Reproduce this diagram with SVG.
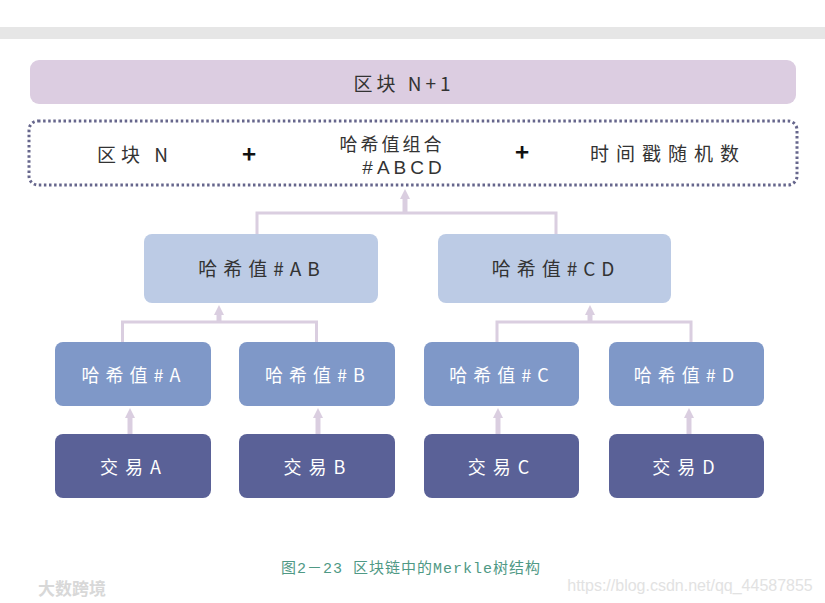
<svg xmlns="http://www.w3.org/2000/svg" width="825" height="603" viewBox="0 0 825 603">
<style>
  .t { font-family: "Noto Sans CJK SC", "Liberation Sans", sans-serif; text-anchor: middle; dominant-baseline: central; }
  .dark { fill: #333333; }
  .white { fill: #ffffff; }
  .l1 { fill: #dccde1; }
  .l2 { fill: #bccbe5; }
  .l3 { fill: #7f98c8; }
  .tx { fill: #5a6197; }
  .conn { fill: none; stroke: #dacee0; stroke-width: 3; }
  .arr { fill: none; stroke: #dacee0; stroke-width: 5; marker-end: url(#ah); }
</style>
<defs>
  <marker id="ah" markerUnits="userSpaceOnUse" markerWidth="12" markerHeight="10" refX="2" refY="5" orient="auto">
    <path d="M0,0 L10,5 L0,10 Z" fill="#dacee0"/>
  </marker>
</defs>
<rect x="0" y="0" width="825" height="603" fill="#ffffff"/>
<rect x="0" y="27" width="825" height="12" fill="#e6e6e6"/>

<g id="block-n1">
  <rect x="30" y="60" width="766" height="44" rx="9" class="l1"/>
  <text x="404" y="82" class="t dark" font-size="19" letter-spacing="4">区块 N+1</text>
</g>

<g id="header">
  <rect x="29" y="121" width="768" height="64" rx="9" fill="none" stroke="#66668c" stroke-width="3" stroke-dasharray="2.5 2.6"/>
  <text x="135" y="153" class="t dark" font-size="19" letter-spacing="5">区块 N</text>
  <text x="249" y="152" class="t" fill="#111" font-size="24" font-weight="bold">+</text>
  <text x="392" y="143" class="t dark" font-size="18" letter-spacing="3">哈希值组合</text>
  <text x="404" y="167" class="t dark" font-size="19" letter-spacing="4" style="font-family: 'Liberation Sans', sans-serif">#ABCD</text>
  <text x="522" y="150" class="t" fill="#111" font-size="24" font-weight="bold">+</text>
  <text x="668" y="152" class="t dark" font-size="19" letter-spacing="7">时间戳随机数</text>
</g>

<g id="hash-ab">
  <rect x="144" y="234" width="234" height="69" rx="8" class="l2"/>
  <text x="262" y="267" class="t dark" font-size="19" letter-spacing="6">哈希值#AB</text>
</g>
<g id="hash-cd">
  <rect x="438" y="234" width="233" height="69" rx="8" class="l2"/>
  <text x="556" y="267" class="t dark" font-size="19" letter-spacing="6">哈希值#CD</text>
</g>

<g id="hash-a">
  <rect x="55" y="342" width="156" height="64" rx="8" class="l3"/>
  <text x="134" y="374" class="t white" font-size="18" letter-spacing="6">哈希值#A</text>
</g>
<g id="hash-b">
  <rect x="239" y="342" width="156" height="64" rx="8" class="l3"/>
  <text x="318" y="374" class="t white" font-size="18" letter-spacing="6">哈希值#B</text>
</g>
<g id="hash-c">
  <rect x="424" y="342" width="155" height="64" rx="8" class="l3"/>
  <text x="502" y="374" class="t white" font-size="18" letter-spacing="6">哈希值#C</text>
</g>
<g id="hash-d">
  <rect x="609" y="342" width="155" height="64" rx="8" class="l3"/>
  <text x="687" y="374" class="t white" font-size="18" letter-spacing="6">哈希值#D</text>
</g>

<g id="tx-a">
  <rect x="55" y="434" width="156" height="64" rx="8" class="tx"/>
  <text x="134" y="466" class="t white" font-size="18" letter-spacing="7">交易A</text>
</g>
<g id="tx-b">
  <rect x="239" y="434" width="156" height="64" rx="8" class="tx"/>
  <text x="318" y="466" class="t white" font-size="18" letter-spacing="7">交易B</text>
</g>
<g id="tx-c">
  <rect x="424" y="434" width="155" height="64" rx="8" class="tx"/>
  <text x="502" y="466" class="t white" font-size="18" letter-spacing="7">交易C</text>
</g>
<g id="tx-d">
  <rect x="609" y="434" width="155" height="64" rx="8" class="tx"/>
  <text x="687" y="466" class="t white" font-size="18" letter-spacing="7">交易D</text>
</g>

<g id="connectors">
  <path class="conn" d="M257,234 V213 H556 V234"/>
  <path class="arr" d="M405,213 V197"/>
  <path class="conn" d="M122.5,342 V322 H316.5 V342"/>
  <path class="arr" d="M219,322 V313"/>
  <path class="conn" d="M497,342 V322 H691 V342"/>
  <path class="arr" d="M590,322 V313"/>
  <path class="arr" d="M130,434 V416"/>
  <path class="arr" d="M318,434 V416"/>
  <path class="arr" d="M498,434 V416"/>
  <path class="arr" d="M689,434 V416"/>
</g>

<text x="411" y="569" class="t" fill="#4f9985" font-size="15" letter-spacing="1" style="font-family: 'Liberation Mono', 'Noto Sans CJK SC', monospace">图2－23 区块链中的Merkle树结构</text>
<text x="72" y="587" class="t" fill="#d8d8d8" font-size="17" font-weight="bold">大数跨境</text>
<text x="690" y="585" class="t" fill="#e2e2e2" font-size="16" style="font-family: 'Liberation Sans', sans-serif">https://blog.csdn.net/qq_44587855</text>
</svg>
